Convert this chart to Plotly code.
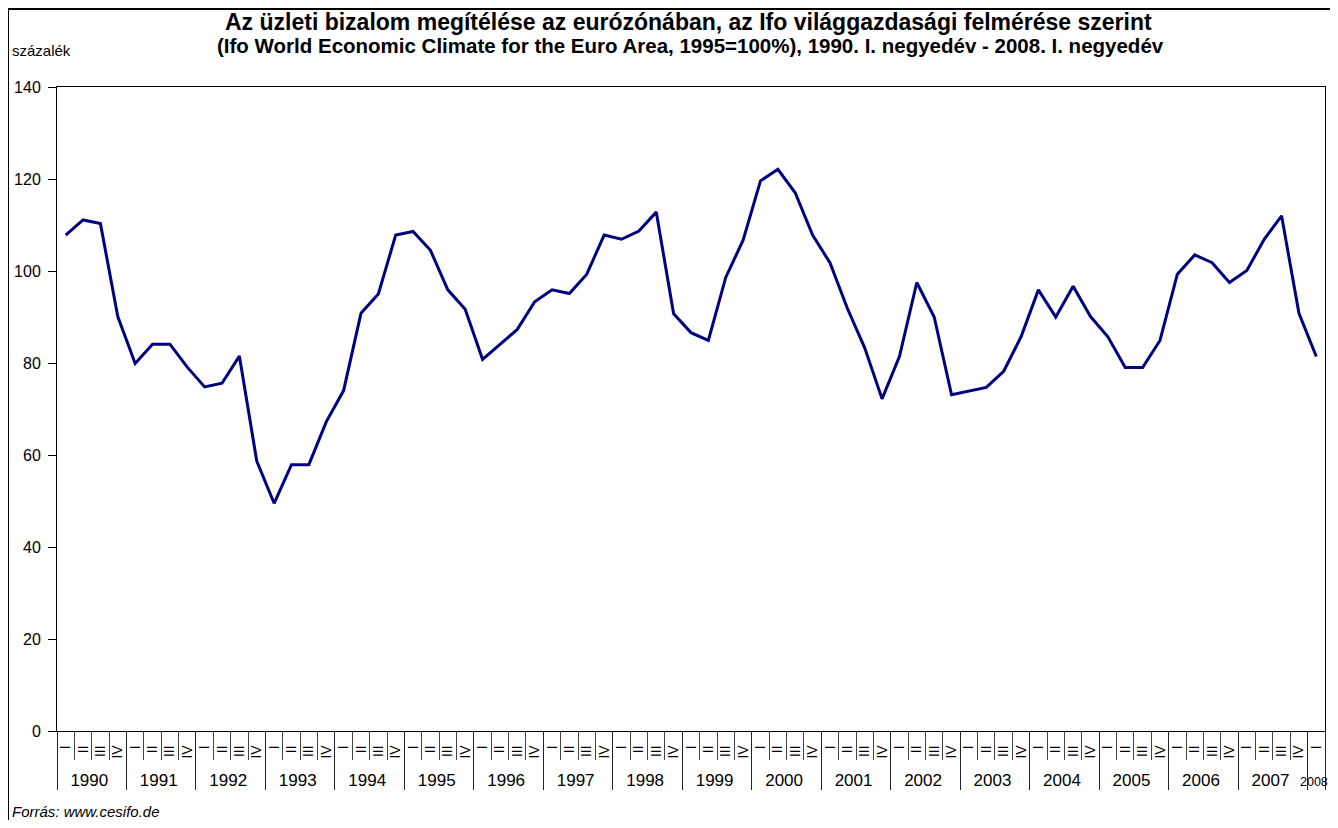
import plotly.graph_objects as go

years = [str(y) for y in range(1990, 2009)]
quarters = ["I", "II", "III", "IV"]

values = [
    107.8, 111.1, 110.3, 90.1,   # 1990
    79.9, 84.1, 84.1, 79.1,      # 1991
    74.8, 75.6, 81.5, 58.7,      # 1992
    49.5, 57.9, 57.9, 67.2,      # 1993
    74.0, 90.8, 95.0, 107.8,     # 1994
    108.6, 104.5, 95.9, 91.7,    # 1995
    80.8, 84.0, 87.3, 93.3,      # 1996
    95.9, 95.1, 99.3, 107.8,     # 1997
    106.9, 108.7, 112.8, 90.7,   # 1998
    86.6, 84.9, 98.6, 106.7,     # 1999
    119.6, 122.1, 117.0, 107.8,  # 2000
    101.8, 91.9, 83.3, 72.2,     # 2001
    81.4, 97.5, 90.0, 73.1,      # 2002
    73.9, 74.7, 78.2, 85.7,      # 2003
    95.9, 90.0, 96.7, 90.1,      # 2004
    85.7, 79.0, 79.0, 84.9,      # 2005
    99.3, 103.5, 101.8, 97.5,    # 2006
    100.1, 106.9, 112.0, 90.8,   # 2007
    81.4,                        # 2008
]

title_line1 = "Az üzleti bizalom megítélése az eurózónában, az Ifo világgazdasági felmérése szerint"
title_line2 = "(Ifo World Economic Climate for the Euro Area, 1995=100%), 1990. I. negyedév - 2008. I. negyedév"
y_label = "százalék"
source = "Forrás: www.cesifo.de"

# two-level category labels (year labels larger; the lone 2008 label a bit smaller to fit)
x_years = []
x_quarters = []
for i in range(len(values)):
    yr = years[i // 4]
    size = 17 if i // 4 < len(years) - 1 else 12.5
    x_years.append("<span style='font-size:%spx'>%s</span>" % (size, yr))
    x_quarters.append(quarters[i % 4] + "\u00a0\u00a0")

FONT = "Liberation Sans, Arial, sans-serif"
W, H = 1322, 812
ML, MR, MT, MB = 49, 5, 79, 89
PW = W - ML - MR
PH = H - MT - MB


def px(xf):
    return (xf - ML) / PW


def py(yf):
    return (H - MB - yf) / PH


fig = go.Figure()
fig.add_trace(go.Scatter(
    x=[x_years, x_quarters],
    y=values,
    mode="lines",
    line=dict(color="#000080", width=3),
    showlegend=False,
))

fig.update_layout(
    width=W,
    height=H,
    paper_bgcolor="white",
    plot_bgcolor="white",
    margin=dict(l=ML, r=MR, t=MT, b=MB, autoexpand=False),
    font=dict(family=FONT, size=16, color="black"),
    xaxis=dict(
        type="multicategory",
        range=[-0.5, len(values) - 0.5],
        showline=True, linecolor="black", linewidth=1, mirror=True,
        ticks="outside", tickson="boundaries", ticklen=28, tickcolor="#444",
        tickangle=-90,
        tickfont=dict(family=FONT, size=14, color="black"),
        showdividers=True, dividercolor="#222", dividerwidth=1,
        showgrid=False, zeroline=False,
    ),
    yaxis=dict(
        range=[0, 140], tickvals=[0, 20, 40, 60, 80, 100, 120, 140],
        showline=True, linecolor="black", linewidth=1, mirror=True,
        ticks="outside", ticklen=8, tickcolor="black",
        ticklabelstandoff=4,
        tickfont=dict(family=FONT, size=16, color="black"),
        showgrid=False, zeroline=False,
    ),
    annotations=[
        dict(text="<b>" + title_line1 + "</b>", xref="paper", yref="paper",
             x=px(680), y=py(14), xanchor="center", yanchor="middle", showarrow=False,
             font=dict(family=FONT, size=23, color="black")),
        dict(text="<b>" + title_line2 + "</b>", xref="paper", yref="paper",
             x=px(682), y=py(38), xanchor="center", yanchor="middle", showarrow=False,
             font=dict(family=FONT, size=20.5, color="black")),
        dict(text=y_label, xref="paper", yref="paper", x=px(2), y=py(42),
             xanchor="left", yanchor="middle", showarrow=False,
             font=dict(family=FONT, size=15, color="black")),
        dict(text="<i>" + source + "</i>", xref="paper", yref="paper",
             x=px(2), y=py(803), xanchor="left", yanchor="middle", showarrow=False,
             font=dict(family=FONT, size=15, color="black")),
    ],
    shapes=[
        dict(type="rect", xref="paper", yref="paper",
             x0=px(0), x1=px(W + 10), y0=py(H + 10), y1=py(1),
             line=dict(color="black", width=2), fillcolor="rgba(0,0,0,0)"),
    ],
)

fig.write_html("out.html")
